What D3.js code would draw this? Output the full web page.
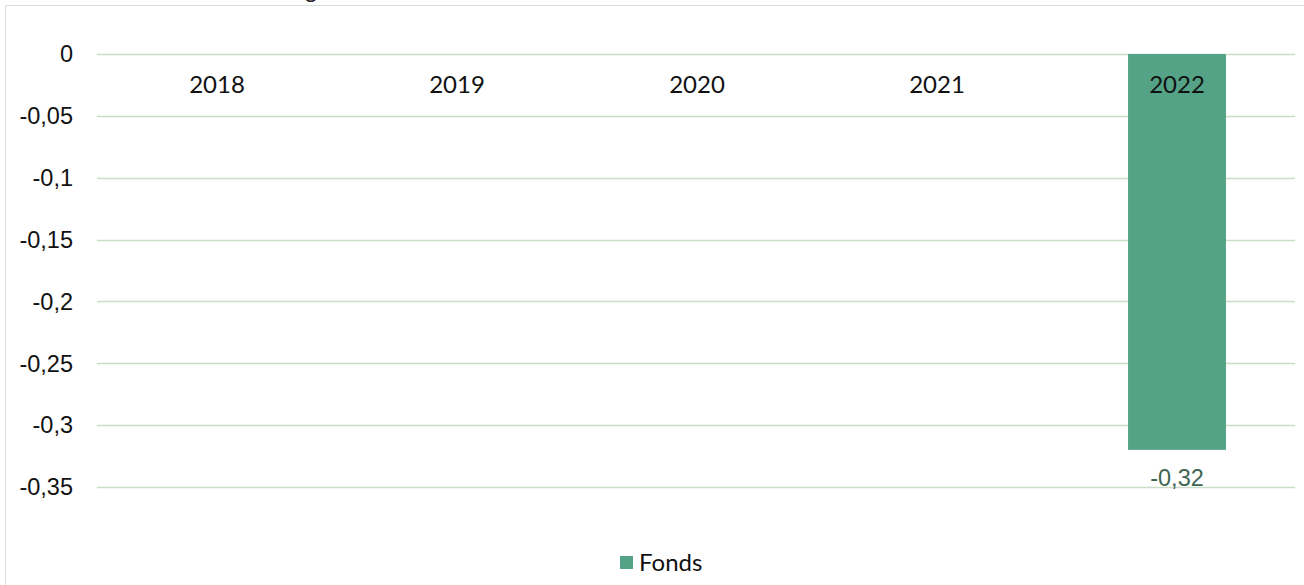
<!DOCTYPE html>
<html><head><meta charset="utf-8">
<script src="https://cdn.jsdelivr.net/npm/d3@7"></script>
<style>body{margin:0;background:#fff;}svg{display:block;}</style>
</head><body>
<svg id="c" width="1304" height="585"></svg>
<script>
const categories = ["2018","2019","2020","2021","2022"];
const fondsValues = [null,null,null,null,-0.32];
const yTicks = [0,-0.05,-0.1,-0.15,-0.2,-0.25,-0.3,-0.35];
const seriesName = "Fonds";

(function(){
const svg = d3.select("#c");
const W = 1304, H = 585;
const mLeft = 97, mRight = 1297, mTop = 54, mBottom = 487;
const barColor = "#55a386";
const gridColor = "#c9ddc9";

// frame
svg.append("rect").attr("x",5.5).attr("y",5.5).attr("width",W+10).attr("height",H+10)
  .attr("fill","none").attr("stroke","#d3e2d3").attr("stroke-width",1);

// cut-off title descender
svg.append("text").attr("x",305).attr("y",-2).attr("font-family","Lato").attr("font-size",23)
  .attr("fill","#222").text("g");

const x = d3.scaleBand().domain(categories).range([mLeft,mRight]).paddingInner(0.592).paddingOuter(0.296);
const y = d3.scaleLinear().domain([0,-0.35]).range([mTop,mBottom]);

const fmt = v => (v===0?"0":String(v).replace(".",","));

// gridlines
svg.append("g").selectAll("line").data(yTicks).join("line")
  .attr("x1",mLeft).attr("x2",mRight-2)
  .attr("y1",d=>Math.round(y(d))+0.5).attr("y2",d=>Math.round(y(d))+0.5)
  .attr("stroke",gridColor).attr("stroke-width",1.3);

// y tick labels
svg.append("g").selectAll("text").data(yTicks).join("text")
  .attr("x",73).attr("y",d=>y(d)).attr("dy","0.35em").attr("text-anchor","end")
  .attr("font-family","Liberation Sans, Arial, sans-serif").attr("font-size",23.5).attr("fill","#111")
  .text(d=>fmt(d));

// bars
const data = categories.map((c,i)=>({c,v:fondsValues[i]})).filter(d=>d.v!=null);
svg.append("g").selectAll("rect").data(data).join("rect")
  .attr("x",d=>x(d.c)).attr("width",x.bandwidth())
  .attr("y",d=>y(Math.max(0,d.v))).attr("height",d=>Math.abs(y(d.v)-y(0)))
  .attr("fill",barColor);

// data labels
svg.append("g").selectAll("text").data(data).join("text")
  .attr("x",d=>x(d.c)+x.bandwidth()/2).attr("y",d=>y(d.v)+28).attr("dy","0.35em")
  .attr("text-anchor","middle").attr("font-family","Liberation Sans, Arial, sans-serif")
  .attr("font-size",23.5).attr("fill","#3e6553").text(d=>fmt(d.v));

// category labels
svg.append("g").selectAll("text").data(categories).join("text")
  .attr("x",d=>x(d)+x.bandwidth()/2).attr("y",85).attr("dy","0.35em").attr("text-anchor","middle")
  .attr("font-family","Lato, sans-serif").attr("font-size",24).attr("fill","#111").text(d=>d);

// legend
const lg = svg.append("g");
lg.append("rect").attr("x",620).attr("y",556).attr("width",13).attr("height",13).attr("fill",barColor);
lg.append("text").attr("x",639).attr("y",563).attr("dy","0.35em").attr("font-family","Lato, sans-serif")
  .attr("font-size",24).attr("fill","#111").text(seriesName);
})();
</script>
</body></html>
